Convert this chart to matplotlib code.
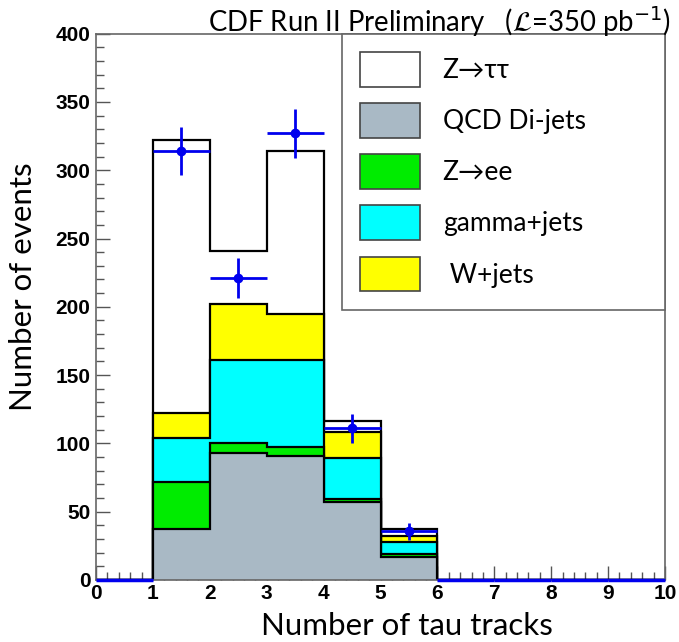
import matplotlib
matplotlib.use('Agg')
import matplotlib.pyplot as plt
from matplotlib.patches import Patch
from matplotlib.ticker import MultipleLocator
import numpy as np

plt.rcParams['font.family'] = ['Lato', 'DejaVu Sans']
plt.rcParams['mathtext.fontset'] = 'dejavusans'

# Bins of the track multiplicity (0..10), one entry per bin
bin_edges = np.arange(0, 11)
qcd_dijets = [0, 37, 93, 91, 57, 17, 0, 0, 0, 0]
z_ee = [0, 35, 7, 6, 2.5, 2, 0, 0, 0, 0]
gamma_jets = [0, 32, 61, 64, 30, 9, 0, 0, 0, 0]
w_jets = [0, 18, 41, 34, 18.5, 4, 0, 0, 0, 0]
z_tautau = [0, 200, 39, 119, 8.5, 5, 0, 0, 0, 0]

data_counts = [0, 314, 221, 327, 111, 35.5, 0, 0, 0, 0]
data_errors = [0, 17.7, 14.9, 18.1, 10.5, 6.0, 0, 0, 0, 0]

# stack order, bottom to top
components = [
    ('QCD Di-jets', qcd_dijets, '#a9b9c5'),
    ('Z\u2192ee', z_ee, '#00ec00'),
    ('gamma+jets', gamma_jets, '#00ffff'),
    (' W+jets', w_jets, '#ffff00'),
    ('Z\u2192\u03c4\u03c4', z_tautau, '#ffffff'),
]

fig = plt.figure(figsize=(6.79, 6.42), dpi=100)
ax = fig.add_axes([0.1414, 0.0966, 0.838, 0.851])

# cumulative stack, drawn from the top layer down so lower ones sit in front
cumulative = []
running = np.zeros(len(bin_edges) - 1)
for name, vals, color in components:
    running = running + np.array(vals)
    cumulative.append((name, running.copy(), color))

for name, total, color in reversed(cumulative):
    ax.stairs(total, bin_edges, fill=True, facecolor=color, edgecolor='black',
              linewidth=1.6, baseline=0, zorder=2)

# data points with poisson errors
centers = 0.5 * (bin_edges[:-1] + bin_edges[1:])
half_width = 0.5 * np.diff(bin_edges)
counts = np.array(data_counts)
errors = np.array(data_errors)
filled = counts > 0
ax.errorbar(centers[filled], counts[filled], xerr=half_width[filled], yerr=errors[filled],
            fmt='o', color='#0000ee', markersize=6, elinewidth=2, capsize=0, zorder=5)
ax.hlines(counts[~filled], bin_edges[:-1][~filled], bin_edges[1:][~filled],
          color='#0000ee', linewidth=2.5, zorder=5, clip_on=False)

ax.set_xlim(0, 10)
ax.set_ylim(0, 400)
ax.xaxis.set_major_locator(MultipleLocator(1))
ax.xaxis.set_minor_locator(MultipleLocator(0.2))
ax.yaxis.set_major_locator(MultipleLocator(50))
ax.yaxis.set_minor_locator(MultipleLocator(10))
ax.tick_params(which='both', direction='in', top=False, right=False, color='#555555', width=1)
ax.tick_params(which='major', length=10)
ax.tick_params(which='minor', length=6)
ax.tick_params(axis='y', pad=4)
ax.tick_params(axis='x', pad=3)
for lab in ax.get_xticklabels() + ax.get_yticklabels():
    lab.set_fontfamily('Liberation Sans')
    lab.set_fontweight('bold')
    lab.set_fontsize(15)
for sp in ax.spines.values():
    sp.set_color('#666666')
    sp.set_linewidth(1.2)

ax.set_xlabel('Number of tau tracks', fontsize=22.5)
ax.set_ylabel('Number of events', fontsize=22.5)
ax.xaxis.set_label_coords(0.547, -0.058)
ax.yaxis.set_label_coords(-0.104, 0.536)

fig.text(0.987, 0.966, r'CDF Run II Preliminary   ($\mathcal{L}$=350 pb$^{-1}$)',
         ha='right', va='center', fontsize=19.8)

handles = [Patch(facecolor=color, edgecolor='#444444', linewidth=1.2, label=name)
           for name, vals, color in reversed(components)]
# legend order as listed in the box
order = [0, 4, 3, 2, 1]
handles = [handles[i] for i in order]
leg = ax.legend(handles=handles, loc='upper left', bbox_to_anchor=(0.432, 0, 0.568, 1),
                mode='expand', borderaxespad=0, fontsize=19, handlelength=2.27,
                handleheight=1.65, labelspacing=0.62, handletextpad=0.85, borderpad=0.7,
                fancybox=False, framealpha=1, edgecolor='#666666')
leg.get_frame().set_linewidth(1.2)
leg.set_zorder(6)

fig.savefig('out.png', dpi=100)
